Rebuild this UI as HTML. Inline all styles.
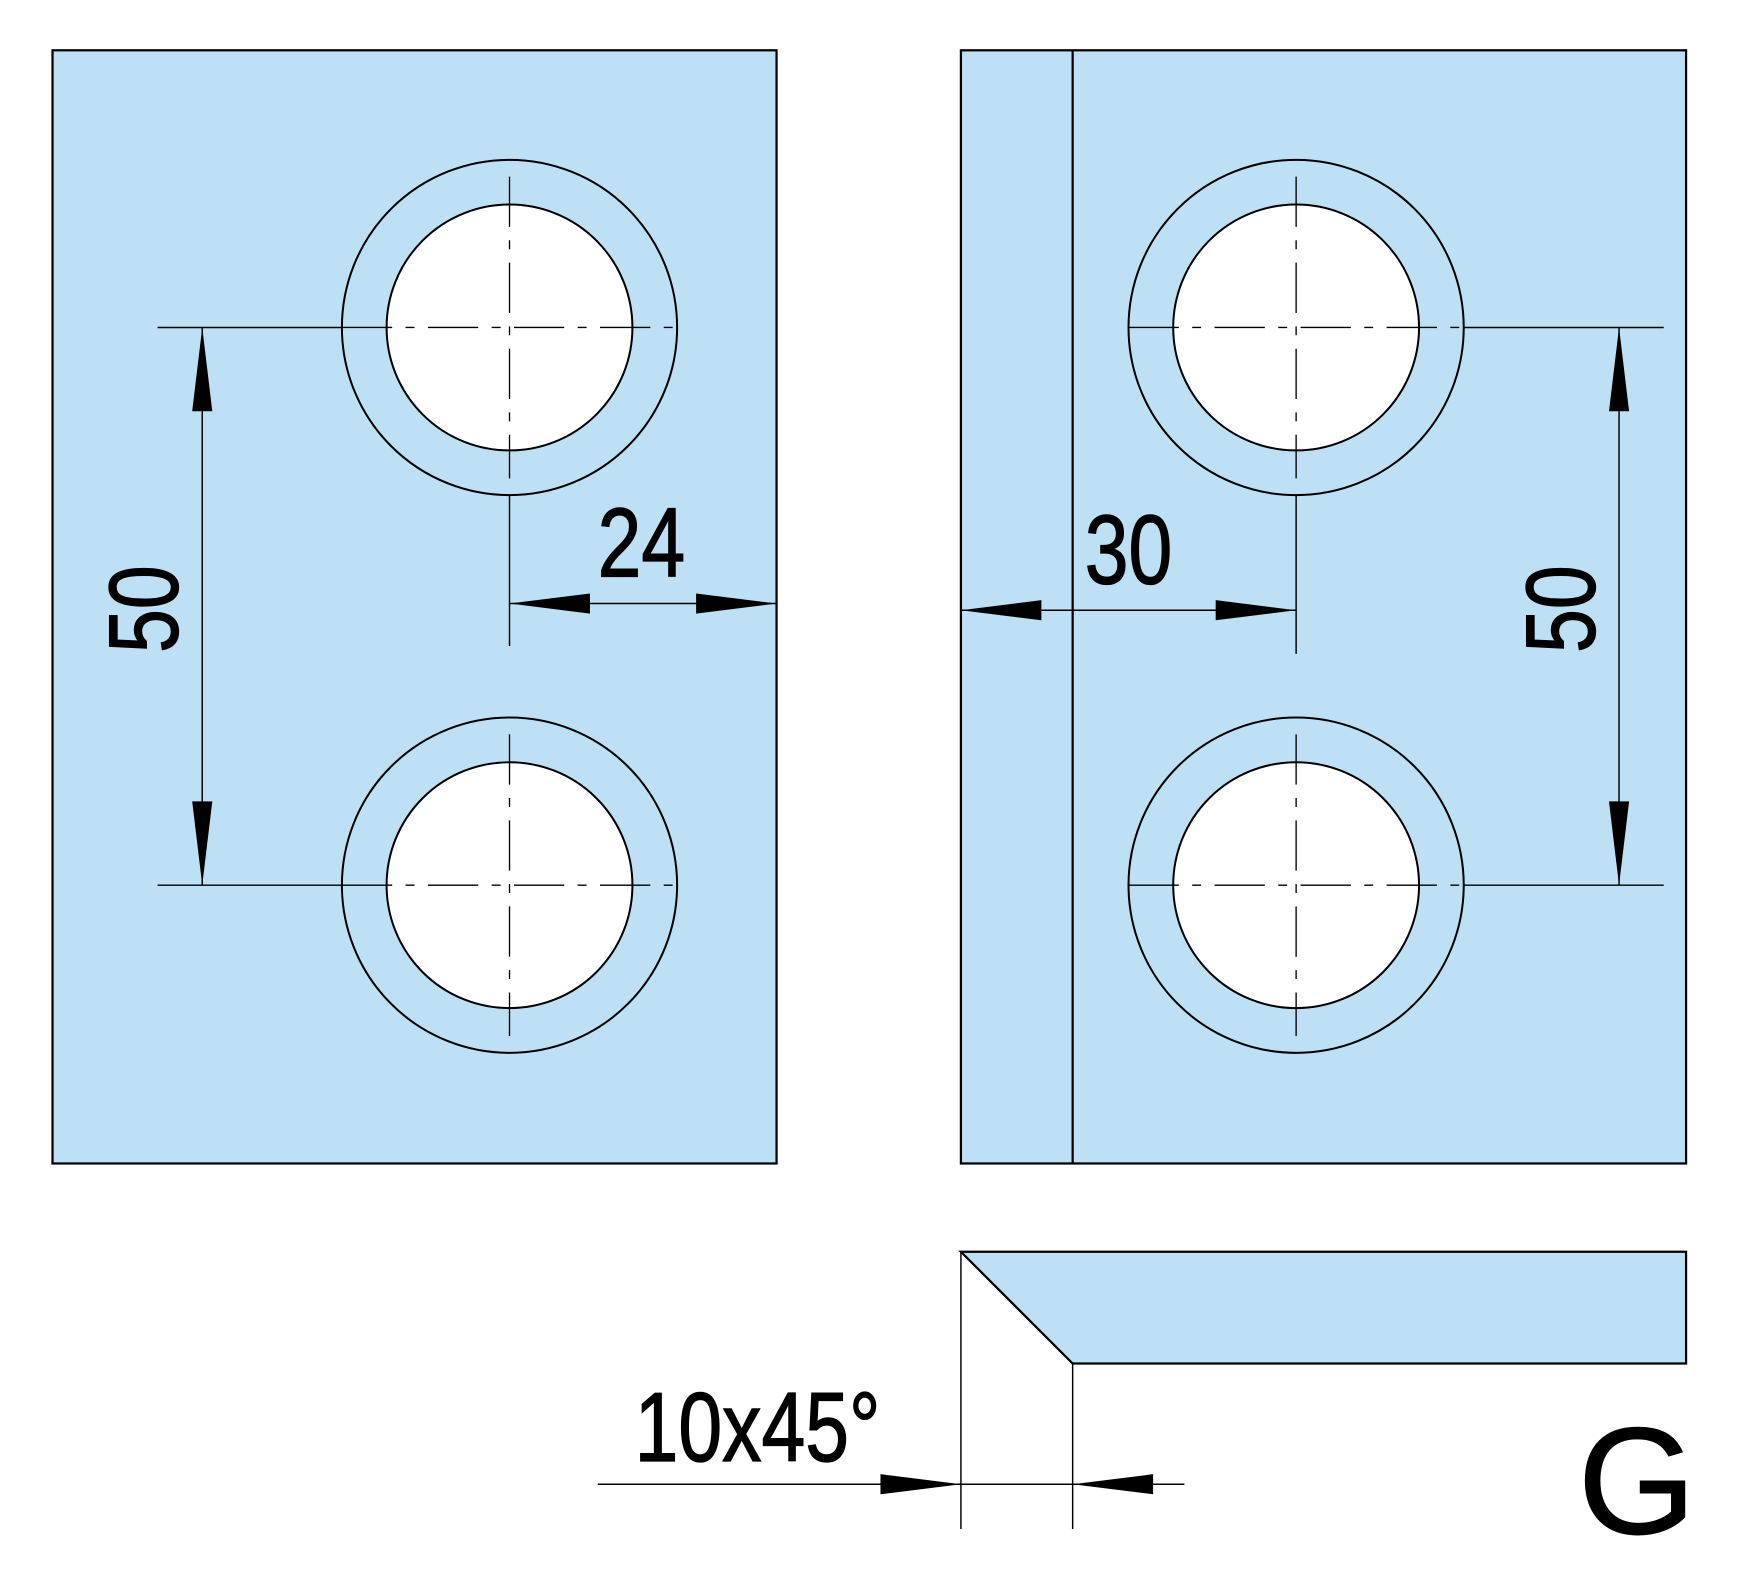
<!DOCTYPE html>
<html><head><style>html,body{margin:0;padding:0;background:#fff;width:1752px;height:1577px;overflow:hidden}</style></head>
<body>
<svg width="1752" height="1577" viewBox="0 0 1568 1411" preserveAspectRatio="none" xmlns="http://www.w3.org/2000/svg" font-family="Liberation Sans, sans-serif">
<defs>
<g id="hole">
<circle r="150" fill="none" stroke="#000" stroke-width="1.8"/>
<circle r="110" fill="#fff" stroke="#000" stroke-width="1.8"/>
<line x1="-150" y1="0" x2="150" y2="0" stroke="#000" stroke-width="1.2" stroke-dasharray="45,12,8,12"/>
<line x1="0" y1="-135" x2="0" y2="135" stroke="#000" stroke-width="1.2" stroke-dasharray="45,12,8,12"/>
</g>
</defs>
<g stroke="#000" stroke-width="2" fill="#bde0f5">
<rect x="47" y="45" width="648" height="996"/>
<rect x="860" y="45" width="649" height="996"/>
<line x1="960" y1="45" x2="960" y2="1041"/>
<polygon points="860,1120 1509,1120 1509,1220 960,1220"/>
</g>
<use href="#hole" x="456" y="293"/>
<use href="#hole" x="456" y="792"/>
<use href="#hole" x="1160" y="293"/>
<use href="#hole" x="1160" y="792"/>
<g stroke="#000" stroke-width="1.3" fill="none">
<line x1="141" y1="293" x2="306" y2="293"/>
<line x1="141" y1="792" x2="306" y2="792"/>
<line x1="456" y1="443" x2="456" y2="578"/>
<line x1="1310" y1="293" x2="1489" y2="293"/>
<line x1="1310" y1="792" x2="1489" y2="792"/>
<line x1="1160" y1="443" x2="1160" y2="585"/>
<line x1="181" y1="293" x2="181" y2="792"/>
<line x1="1449" y1="293" x2="1449" y2="792"/>
<line x1="456" y1="540" x2="695" y2="540"/>
<line x1="860" y1="546" x2="1160" y2="546"/>
<line x1="860" y1="1120" x2="860" y2="1368"/>
<line x1="960" y1="1220" x2="960" y2="1368"/>
<line x1="535" y1="1328" x2="1060" y2="1328"/>
</g>
<g fill="#000">
<polygon points="181,293 172,368 190,368"/>
<polygon points="181,792 172,717 190,717"/>
<polygon points="1449,293 1440,368 1458,368"/>
<polygon points="1449,792 1440,717 1458,717"/>
<polygon points="456,540 528,531 528,549"/>
<polygon points="695,540 623,531 623,549"/>
<polygon points="860,546 932,537 932,555"/>
<polygon points="1160,546 1088,537 1088,555"/>
<polygon points="860,1328 788,1319 788,1337"/>
<polygon points="960,1328 1032,1319 1032,1337"/>
</g>
<g font-size="88" fill="#000" stroke="#000" stroke-width="1.2" text-anchor="middle">
<text transform="translate(574,516) scale(0.8,1)">24</text>
<text transform="translate(1010,522) scale(0.8,1)">30</text>
<text transform="translate(159,545) rotate(-90) scale(0.8,1)">50</text>
<text transform="translate(1427,545) rotate(-90) scale(0.8,1)">50</text>
<text transform="translate(678,1307) scale(0.8,1)">10x45°</text>
<text x="1465" y="1372" font-size="136" stroke-width="1">G</text>
</g>
</svg>
</body></html>
